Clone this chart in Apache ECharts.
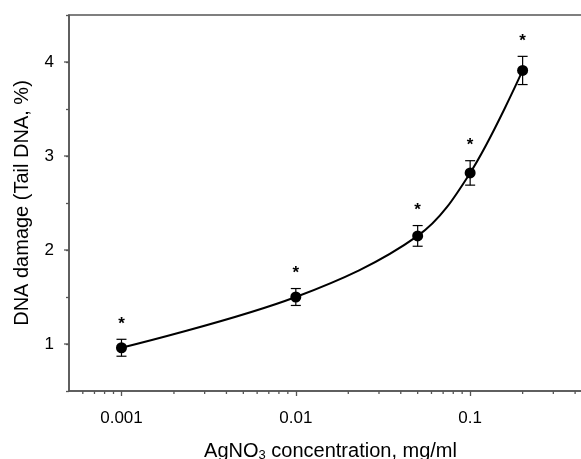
<!DOCTYPE html>
<html>
<head>
<meta charset="utf-8">
<script src="https://cdn.jsdelivr.net/npm/echarts@6/dist/echarts.min.js"></script>
<style>html,body{margin:0;padding:0;background:#fff}#c{width:581px;height:459px}</style>
</head>
<body>
<div id="c"></div>
<script>
// ---- data ----
const concentrations = [0.001, 0.01, 0.05, 0.1, 0.2];
const tailDNA = [0.96, 1.50, 2.15, 2.82, 3.91];
const tailErr = [0.09, 0.09, 0.11, 0.13, 0.15];
const sigMarks = ['*', '*', '*', '*', '*'];
const xMajorLabels = ['0.001', '0.01', '0.1'];
const xMinorTicks = [0.0006, 0.0007, 0.0008, 0.0009,
  0.002, 0.003, 0.004, 0.005, 0.006, 0.007, 0.008, 0.009,
  0.02, 0.03, 0.04, 0.05, 0.06, 0.07, 0.08, 0.09,
  0.2, 0.3, 0.4];
const yMajorTicks = [1, 2, 3, 4];
const X_MIN = 0.0005, X_MAX = 0.5, Y_MIN = 0.5, Y_MAX = 4.5;

const FONT = 'Liberation Sans, Arial, sans-serif';
const AXIS_COLOR = '#555';

const chart = echarts.init(document.getElementById('c'), null, {renderer: 'canvas'});

const points = concentrations.map((c, i) => [c, tailDNA[i]]);
const errData = concentrations.map((c, i) => [c, tailDNA[i], tailErr[i]]);

function tickLine(x1, y1, x2, y2, w) {
  return {type: 'line', shape: {x1, y1, x2, y2}, style: {stroke: AXIS_COLOR, lineWidth: w || 1.3}};
}

const option = {
  animation: false,
  backgroundColor: '#fff',
  grid: {left: 69, right: -11, top: 15, bottom: 68, containLabel: false, outerBoundsMode: 'none',
    show: true, borderColor: AXIS_COLOR, borderWidth: 1.5, backgroundColor: 'transparent'},
  xAxis: {
    type: 'log', logBase: 10, min: X_MIN, max: X_MAX,
    name: 'AgNO{s|3} concentration, mg/ml',
    nameLocation: 'middle', nameGap: 49,
    nameTextStyle: {fontSize: 20, color: '#000', fontFamily: FONT, lineHeight: 22,
      rich: {s: {fontSize: 13, color: '#000', fontFamily: FONT, verticalAlign: 'bottom', lineHeight: 18}}},
    axisLine: {show: true, lineStyle: {color: AXIS_COLOR, width: 1.5}},
    axisTick: {show: true, length: 5, lineStyle: {color: AXIS_COLOR, width: 1.3}},
    minorTick: {show: false},
    splitLine: {show: false},
    axisLabel: {
      show: true, fontSize: 17, color: '#000', fontFamily: FONT, margin: 19,
      showMinLabel: false, showMaxLabel: false,
      formatter: function (v) {
        const s = xMajorLabels.find(l => Math.abs(parseFloat(l) - v) / v < 1e-6);
        return s || '';
      }
    }
  },
  yAxis: {
    type: 'value', min: Y_MIN, max: Y_MAX, interval: 0.5,
    name: 'DNA damage (Tail DNA, %)',
    nameLocation: 'middle', nameGap: 37,
    nameTextStyle: {fontSize: 20, color: '#000', fontFamily: FONT},
    axisLine: {show: true, lineStyle: {color: AXIS_COLOR, width: 1.5}},
    axisTick: {show: true, length: 3, lineStyle: {color: AXIS_COLOR, width: 1.3}},
    splitLine: {show: false},
    axisLabel: {
      fontSize: 17, color: '#000', fontFamily: FONT, margin: 15,
      formatter: function (v) {
        return yMajorTicks.indexOf(v) >= 0 ? String(v) : '';
      }
    }
  },
  series: [
    {
      name: 'xMinorTicks', type: 'custom', silent: true, clip: false,
      data: xMinorTicks.map(v => [v, Y_MIN]),
      renderItem: function (params, api) {
        const p = api.coord([api.value(0), api.value(1)]);
        return tickLine(p[0], p[1], p[0], p[1] + 3);
      }
    },
    {
      name: 'yMajorTicks', type: 'custom', silent: true, clip: false,
      data: yMajorTicks.map(v => [X_MIN, v]),
      renderItem: function (params, api) {
        const p = api.coord([api.value(0), api.value(1)]);
        return tickLine(p[0] - 5, p[1], p[0], p[1]);
      }
    },
    {
      name: 'curve', type: 'line', data: points, smooth: 0.35,
      showSymbol: true, symbol: 'circle', symbolSize: 11,
      itemStyle: {color: '#000'},
      lineStyle: {color: '#000', width: 2},
      z: 3
    },
    {
      name: 'errors', type: 'custom', silent: true, clip: false, z: 4,
      data: errData,
      renderItem: function (params, api) {
        const x = api.value(0), y = api.value(1), e = api.value(2);
        const t = api.coord([x, y + e]);
        const b = api.coord([x, y - e]);
        const hw = 5;
        const st = {stroke: '#000', lineWidth: 1.2};
        return {
          type: 'group',
          children: [
            {type: 'line', shape: {x1: t[0], y1: t[1], x2: b[0], y2: b[1]}, style: st},
            {type: 'line', shape: {x1: t[0] - hw, y1: t[1], x2: t[0] + hw, y2: t[1]}, style: st},
            {type: 'line', shape: {x1: b[0] - hw, y1: b[1], x2: b[0] + hw, y2: b[1]}, style: st},
            {type: 'text', x: t[0], y: t[1] - 15,
              style: {text: sigMarks[params.dataIndex], fill: '#000', fontSize: 17, fontWeight: 'bold', fontFamily: FONT,
                align: 'center', verticalAlign: 'middle'}}
          ]
        };
      }
    }
  ]
};
chart.setOption(option);
</script>
</body>
</html>
